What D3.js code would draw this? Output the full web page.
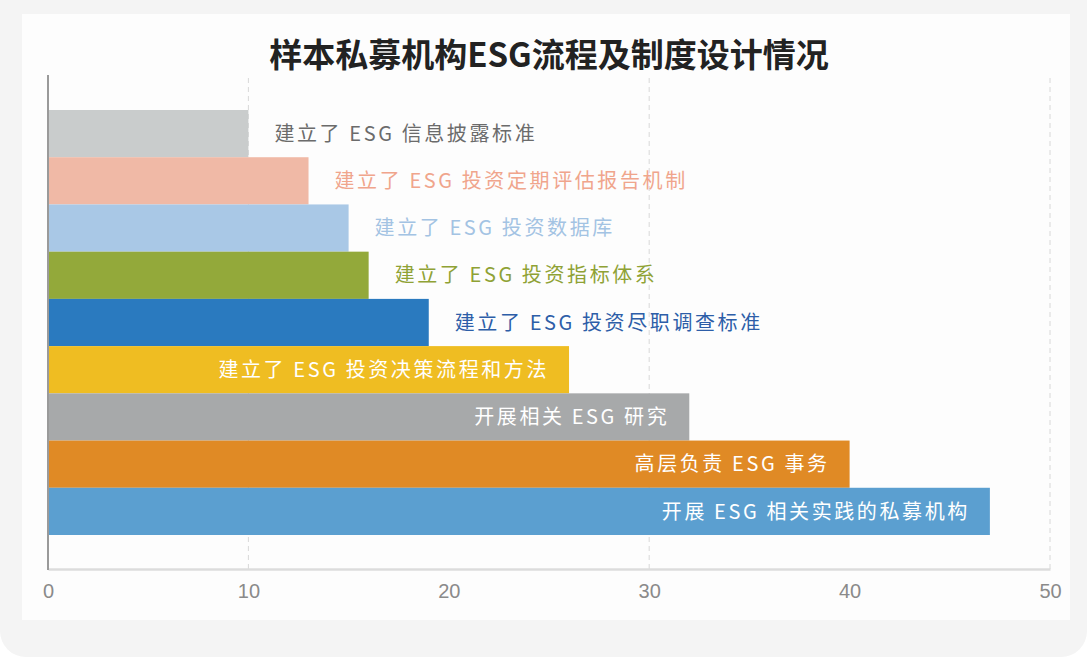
<!DOCTYPE html>
<html>
<head>
<meta charset="utf-8">
<script src="https://cdn.jsdelivr.net/npm/d3@7"></script>
<style>
  body { margin: 0; background: #fff; }
  svg { display: block; }
</style>
</head>
<body>
<svg class="chart"></svg>
<script>
// categories top to bottom
var categories = [
  "建立了 ESG 信息披露标准",
  "建立了 ESG 投资定期评估报告机制",
  "建立了 ESG 投资数据库",
  "建立了 ESG 投资指标体系",
  "建立了 ESG 投资尽职调查标准",
  "建立了 ESG 投资决策流程和方法",
  "开展相关 ESG 研究",
  "高层负责 ESG 事务",
  "开展 ESG 相关实践的私募机构"
];
var values = [10, 13, 15, 16, 19, 26, 32, 40, 47];
var barColors = ["#c9cccc", "#f0b9a6", "#a9c8e6", "#93a93a", "#2a7abf", "#efbd22", "#a7a9aa", "#e08a25", "#5b9fd0"];
var labelColors = ["#6b6b6b", "#f0a58c", "#a3c3e3", "#8fa235", "#2d5ea8", "#fff", "#fff", "#fff", "#fff"];
var insideLabel = [false, false, false, false, false, true, true, true, true];
var xTicks = [0, 10, 20, 30, 40, 50];
var gridTicks = [10, 30, 50];

var W = 1087, H = 657;
var margin = {top: 110, left: 48, right: 37, bottom: 122};

var svg = d3.select(".chart")
  .attr("width", W)
  .attr("height", H);

// outer grey frame and white panel
svg.append("rect")
  .attr("x", 0).attr("y", -40)
  .attr("width", W).attr("height", H + 40)
  .attr("rx", 26)
  .attr("fill", "#f4f4f4");

svg.append("rect")
  .attr("x", 22).attr("y", 14)
  .attr("width", 1048).attr("height", 606)
  .attr("fill", "#fdfdfd");

svg.append("text")
  .attr("x", 549)
  .attr("y", 67)
  .attr("text-anchor", "middle")
  .attr("font-family", "'Noto Sans CJK SC', sans-serif")
  .attr("font-weight", "bold")
  .attr("font-size", 33)
  .attr("fill", "#222")
  .text("样本私募机构ESG流程及制度设计情况");

var x = d3.scaleLinear()
  .domain([0, 50])
  .range([0, 1002]);

var y = d3.scaleBand()
  .domain(categories)
  .range([0, 425])
  .padding(0);

var g = svg.append("g")
  .attr("transform", "translate(" + margin.left + "," + margin.top + ")");

// dashed grid lines
g.selectAll("line.grid")
  .data(gridTicks)
  .enter().append("line")
  .attr("class", "grid")
  .attr("x1", d => x(d))
  .attr("x2", d => x(d))
  .attr("y1", -32)
  .attr("y2", 459)
  .attr("stroke", "#d8d8d8")
  .attr("stroke-width", 1)
  .attr("stroke-dasharray", "5,4");

// bars
g.selectAll("rect.bar")
  .data(values)
  .enter().append("rect")
  .attr("class", "bar")
  .attr("x", 0)
  .attr("y", (d, i) => y(categories[i]))
  .attr("width", d => x(d))
  .attr("height", y.bandwidth())
  .attr("fill", (d, i) => barColors[i]);

// bar labels
g.selectAll("text.lbl")
  .data(values)
  .enter().append("text")
  .attr("class", "lbl")
  .attr("x", (d, i) => insideLabel[i] ? x(d) - 20 : x(d) + 26)
  .attr("y", (d, i) => y(categories[i]) + y.bandwidth() / 2)
  .attr("dy", "0.36em")
  .attr("text-anchor", (d, i) => insideLabel[i] ? "end" : "start")
  .attr("font-family", "'Noto Sans CJK SC', sans-serif")
  .attr("font-size", 20)
  .attr("letter-spacing", 2.6)
  .attr("fill", (d, i) => labelColors[i])
  .text((d, i) => categories[i]);

// x axis
var xAxis = g.append("g")
  .attr("transform", "translate(0,459)")
  .call(d3.axisBottom(x).tickValues(xTicks).tickSize(0).tickPadding(15));

xAxis.select(".domain")
  .attr("stroke", "#dcdcdc")
  .attr("stroke-width", 2.5);

xAxis.selectAll("text")
  .attr("font-family", "'Liberation Sans Narrow', 'Liberation Sans', sans-serif")
  .attr("font-size", 20)
  .attr("fill", "#8a8a8a");

// y axis line
g.append("line")
  .attr("x1", 0).attr("x2", 0)
  .attr("y1", -35).attr("y2", 460)
  .attr("stroke", "#9a9a9a")
  .attr("stroke-width", 2);
</script>
</body>
</html>
